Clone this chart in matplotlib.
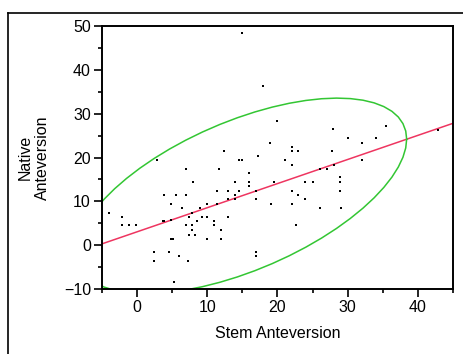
import numpy as np
import matplotlib
matplotlib.use('Agg')
import matplotlib.pyplot as plt
from matplotlib.lines import Line2D

# scatter points
stem = [-4.0, -2.2, -2.2, -1.1, -0.1, 2.4, 2.4, 2.9, 3.7, 3.9, 3.9, 4.5, 4.9, 4.9, 4.9, 5.1,
        5.3, 5.6, 6.0, 6.4, 7.0, 7.0, 7.0, 7.2, 7.4, 7.4, 7.8, 7.8, 7.8, 8.0, 8.3, 8.6, 8.9,
        9.3, 10.0, 10.0, 10.0, 11.0, 11.0, 11.4, 11.4, 11.6, 12.0, 12.0, 12.4, 12.9, 12.9, 12.9,
        13.9, 13.9, 13.9, 14.5, 14.5, 14.9, 15.0, 16.0, 16.0, 16.0, 17.0, 17.0, 17.0, 17.0,
        17.2, 17.9, 18.9, 19.1, 19.5, 20.0, 21.0, 22.0, 22.0, 22.0, 22.0, 22.0, 22.6, 22.9,
        22.9, 23.9, 23.9, 25.0, 26.1, 26.1, 27.1, 27.7, 27.9, 28.1, 28.9, 28.9, 28.9, 29.1,
        30.0, 32.1, 32.1, 34.0, 35.4, 42.9]
native = [7.4, 6.4, 4.5, 4.5, 4.5, -1.5, -3.5, 19.4, 5.5, 5.5, 11.5, -1.5, 9.5, 5.8, 1.4, 1.4,
          -8.5, 11.5, -2.5, 8.4, 17.3, 11.5, 4.5, -3.5, 6.4, 2.4, 7.4, 4.5, 3.5, 14.4, 2.4, 5.5, 8.5,
          6.4, 6.4, 9.5, 1.4, 5.5, 4.5, 12.4, 9.5, 17.4, 3.4, 1.4, 21.4, 12.4, 10.5, 6.4,
          14.4, 11.4, 10.5, 19.4, 12.4, 48.3, 19.4, 16.4, 14.4, 13.4, 12.4, 10.5, -1.5, -2.5,
          20.4, 36.3, 23.3, 9.5, 14.4, 28.3, 19.4, 22.4, 21.4, 18.4, 12.4, 9.5, 4.5, 21.4,
          11.4, 14.5, 10.5, 14.5, 17.4, 8.4, 17.4, 21.4, 26.4, 18.4, 15.5, 14.5, 12.4, 8.4,
          24.4, 23.3, 19.4, 24.4, 27.3, 26.3]

# fit line and confidence ellipse
fit_intercept = 3.05
fit_slope = 0.55
ell_cx, ell_cy = 14.9, 11.25
ell_sx, ell_sy = 23.5, 22.3
ell_r = 0.58

plt.rcParams['font.family'] = ['Liberation Sans', 'DejaVu Sans']
plt.rcParams['font.size'] = 11.5

fig = plt.figure(figsize=(4.64, 3.54), dpi=100)
ax = fig.add_axes([102 / 464, 1 - 289 / 354, 351 / 464, 263 / 354])

# outer frame (top and left edges visible)
fig.add_artist(Line2D([8 / 464, 8 / 464], [0, 1 - 13 / 354], color='black', lw=1.2,
                      transform=fig.transFigure))
fig.add_artist(Line2D([8 / 464, 1], [1 - 13 / 354, 1 - 13 / 354], color='black', lw=1.2,
                      transform=fig.transFigure))

ax.plot(stem, native, 's', color='black', ms=1.9, mew=0, zorder=3)

xlim = (-5, 45)
xs = np.array(xlim)
ax.plot(xs, fit_intercept + fit_slope * xs, color='#ee3560', lw=1.1, zorder=2)

t = np.linspace(0, 2 * np.pi, 60)
ex = ell_cx + ell_sx * np.cos(t)
ey = ell_cy + ell_sy * (ell_r * np.cos(t) + np.sqrt(1 - ell_r ** 2) * np.sin(t))
ax.plot(ex, ey, color='#33c633', lw=1.1, zorder=2)

ax.set_xlim(*xlim)
ax.set_ylim(-10, 50)
ax.set_xticks([0, 10, 20, 30, 40])
ax.set_xticks([-5, 5, 15, 25, 35, 45], minor=True)
ax.set_yticks([-10, 0, 10, 20, 30, 40, 50])
ax.set_yticks([-5, 5, 15, 25, 35, 45], minor=True)
ax.tick_params(which='major', direction='out', length=5.5, width=1.2, pad=2.5, labelsize=11.5)
ax.tick_params(which='minor', direction='out', length=3, width=1.2)
for s in ax.spines.values():
    s.set_linewidth(1.4)

ax.set_xlabel('Stem Anteversion', labelpad=8)
ax.set_ylabel('Native\nAnteversion', labelpad=10)

fig.savefig('out.png', dpi=100)
